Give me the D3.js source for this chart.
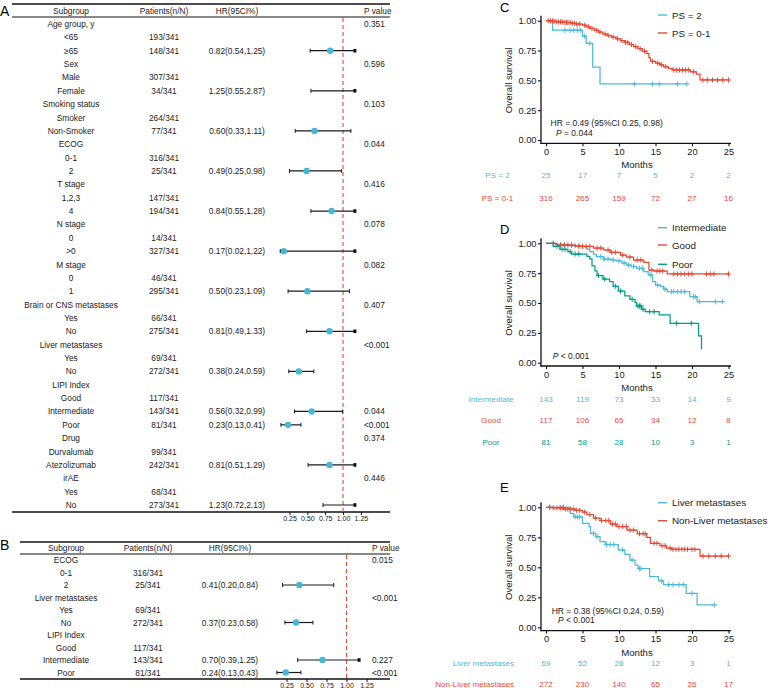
<!DOCTYPE html>
<html><head><meta charset="utf-8">
<script src="https://cdn.jsdelivr.net/npm/d3@7"></script>
<style>body{margin:0;background:#fff}svg{display:block;font-family:"Liberation Sans",Arial,sans-serif}</style>
</head><body><svg id="c" width="768" height="688"></svg>
<script>
// ---------------- DATA ----------------
// Forest plot A
const aLabels = ["Age group, y","<65","≥65","Sex","Male","Female","Smoking status","Smoker","Non-Smoker","ECOG","0-1","2","T stage","1,2,3","4","N stage","0",">0","M stage","0","1","Brain or CNS metastases","Yes","No","Liver metastases","Yes","No","LIPI Index","Good","Intermediate","Poor","Drug","Durvalumab","Atezolizumab","irAE","Yes","No"];
const aPatients = ["","193/341","148/341","","307/341","34/341","","264/341","77/341","","316/341","25/341","","147/341","194/341","","14/341","327/341","","46/341","295/341","","66/341","275/341","","69/341","272/341","","117/341","143/341","81/341","","99/341","242/341","","68/341","273/341"];
const aHR = [null,null,0.82,null,null,1.25,null,null,0.60,null,null,0.49,null,null,0.84,null,null,0.17,null,null,0.50,null,null,0.81,null,null,0.38,null,null,0.56,0.23,null,null,0.81,null,null,1.23];
const aLo = [null,null,0.54,null,null,0.55,null,null,0.33,null,null,0.25,null,null,0.55,null,null,0.02,null,null,0.23,null,null,0.49,null,null,0.24,null,null,0.32,0.13,null,null,0.51,null,null,0.72];
const aHi = [null,null,1.25,null,null,2.87,null,null,1.11,null,null,0.98,null,null,1.28,null,null,1.22,null,null,1.09,null,null,1.33,null,null,0.59,null,null,0.99,0.41,null,null,1.29,null,null,2.13];
const aP = ["0.351","","","0.596","","","0.103","","","0.044","","","0.416","","","0.078","","","0.082","","","0.407","","","<0.001","","","","","0.044","<0.001","0.374","","","0.446","",""];
// Forest plot B
const bLabels = ["ECOG","0-1","2","Liver metastases","Yes","No","LIPI Index","Good","Intermediate","Poor"];
const bPatients = ["","316/341","25/341","","69/341","272/341","","117/341","143/341","81/341"];
const bHR = [null,null,0.41,null,null,0.37,null,null,0.70,0.24];
const bLo = [null,null,0.20,null,null,0.23,null,null,0.39,0.13];
const bHi = [null,null,0.84,null,null,0.58,null,null,1.25,0.43];
const bP = ["0.015","","","<0.001","","","","","0.227","<0.001"];
const forestTicks = [0.25,0.50,0.75,1.00,1.25];
const forestHeaders = ["Subgroup","Patients(n/N)","HR(95CI%)","P value"];

// KM panel C
const cNames = ["PS = 2","PS = 0-1"];
const cPS2 = [[0,1],[0.9,0.92],[5.0,0.87],[5.5,0.81],[6.4,0.61],[7.4,0.47]];
const cPS2End = 19.3;
const cPS2Cens = [2.6,3.3,3.8,4.3,4.7,5.3,6.0,12.1,14.6,15.5,18.0,19.3];
const cPS01 = [[0,1],[0.5,0.997],[1.2,0.99],[2.5,0.985],[3.5,0.978],[4.2,0.972],[5.0,0.962],[5.5,0.95],[6.0,0.936],[6.6,0.92],[7.2,0.905],[7.8,0.888],[8.4,0.875],[9.0,0.862],[9.6,0.848],[10.2,0.833],[10.8,0.818],[11.4,0.8],[12.0,0.782],[12.6,0.765],[13.2,0.745],[13.8,0.725],[14.1,0.69],[14.3,0.66],[15.0,0.645],[15.6,0.63],[16.1,0.614],[16.8,0.598],[17.3,0.587],[19.8,0.572],[20.6,0.553],[21.1,0.503]];
const cPS01End = 25;
const cPS01Cens = [0.3,0.6,0.9,1.1,1.4,1.7,2.0,2.2,2.5,2.8,3.0,3.3,3.6,3.9,4.2,4.6,5.3,5.8,6.3,6.9,7.4,8.1,8.6,9.2,9.8,10.4,10.9,11.2,11.7,12.3,12.9,13.5,14.6,15.3,15.8,16.4,17.5,17.9,18.3,18.7,19.1,19.5,20.2,21.5,22.1,22.8,23.5,24.2,25.0];
const cRiskPS2 = [25,17,7,5,2,2];
const cRiskPS01 = [316,265,159,72,27,16];

// KM panel D
const dNames = ["Intermediate","Good","Poor"];
const dInter = [[0,1],[1.3,0.99],[3,0.98],[5,0.97],[5.6,0.95],[6,0.93],[6.5,0.91],[6.9,0.888],[7.85,0.868],[9.0,0.86],[9.7,0.852],[10.4,0.835],[11,0.818],[11.7,0.805],[12.4,0.79],[13.4,0.762],[14,0.735],[14.6,0.678],[15,0.65],[15.7,0.637],[16.1,0.616],[16.6,0.595],[19.7,0.553],[20.7,0.511]];
const dInterEnd = 24.2;
const dInterCens = [1,2,2.5,3.5,4,4.5,7.5,8,8.5,9.2,10,10.7,11.3,12,12.8,13.2,14.3,15.3,16.3,17.2,17.5,18,18.5,19,20.2,20.5,21,23.2,24.2];
const dGood = [[0,1],[1.5,0.985],[4,0.975],[6.5,0.96],[7.9,0.944],[8.8,0.925],[10.2,0.902],[11,0.885],[12,0.86],[13.4,0.84],[14.1,0.776],[14.8,0.768],[16.6,0.743]];
const dGoodEnd = 25;
const dGoodCens = [1,2,2.5,3,3.5,4.5,5,5.5,6,7,7.5,8.5,9,9.5,10.5,11.5,12.5,13,14.5,15.2,15.6,16,17.5,18,18.5,19,19.5,20,22,22.5,23,25];
const dPoor = [[0,1],[1.0,0.975],[1.9,0.95],[3.0,0.93],[3.5,0.91],[5.6,0.89],[6.0,0.87],[6.3,0.81],[6.7,0.77],[7.0,0.73],[7.8,0.70],[8.7,0.68],[9.2,0.64],[9.9,0.60],[10.8,0.56],[11.5,0.53],[12.2,0.505],[12.4,0.475],[13.1,0.447],[13.6,0.427],[15.5,0.40],[17.0,0.33],[20.9,0.224],[21.3,0.112]];
const dPoorEnd = 21.3;
const dPoorCens = [1.5,2.2,2.6,3.3,4,4.5,7.2,8,9.5,10.2,11.8,12.6,12.8,13.0,13.3,14.2,14.8,17.9,19.9];
const dRiskInter = [143,119,73,33,14,9];
const dRiskGood = [117,106,65,34,12,8];
const dRiskPoor = [81,58,28,10,3,1];

// KM panel E
const eNames = ["Liver metastases","Non-Liver metastases"];
const eLiver = [[0,1],[3.3,0.95],[3.8,0.92],[5.0,0.867],[5.9,0.838],[6.1,0.783],[6.8,0.755],[7.4,0.713],[8.1,0.69],[9.9,0.644],[10.8,0.608],[11.5,0.56],[12.2,0.519],[12.6,0.49],[14.2,0.422],[15.4,0.386],[16.1,0.355],[19.2,0.283],[20.7,0.186]];
const eLiverEnd = 23.1;
const eLiverCens = [0.5,1.9,2.4,4.0,4.3,4.6,6.5,7.0,8.3,8.8,9.3,10.5,11.8,12.8,13.0,15.8,16.8,17.4,18.2,18.8,20.0,23.1];
const eNon = [[0,1],[1,0.995],[2.5,0.985],[4,0.975],[5,0.96],[5.6,0.94],[6.5,0.91],[7.4,0.89],[8.8,0.86],[9.7,0.84],[11.1,0.81],[12.5,0.78],[13.8,0.75],[14.3,0.70],[15.6,0.68],[16.5,0.66],[17.2,0.65],[21.1,0.594]];
const eNonEnd = 25;
const eNonCens = [0.5,1,1.5,2,2.3,2.7,3,3.4,3.8,4.2,4.6,5.3,6,6.8,7.6,8.2,8.6,9.1,9.5,10,10.5,11,11.5,12,12.8,13.3,13.6,14.8,15.2,15.9,16.3,17,17.4,17.8,18.2,18.6,19,19.4,20,20.4,21.5,22.3,23.2,24,25];
const eRiskLiver = [69,52,26,12,3,1];
const eRiskNon = [272,230,140,65,26,17];
const kmTimeTicks = [0,5,10,15,20,25];
const kmSurvTicks = [0,0.25,0.5,0.75,1];

// ---------------- DRAW ----------------
const FONT = '"Liberation Sans", Arial, sans-serif';
const BLUE = '#4DBBD5', RED = '#E64B35', GREEN = '#00A087', DOT = '#45B8D8';
const svg = d3.select('#c');

function txt(g, x, y, s, o = {}) {
  return g.append('text').attr('x', x).attr('y', y)
    .attr('dominant-baseline', 'central')
    .attr('text-anchor', o.anchor || 'middle')
    .attr('font-size', o.size || 8.3)
    .attr('font-family', FONT)
    .attr('fill', o.fill || '#1a1a1a').text(s);
}

function forest(o) {
  const g = svg.append('g');
  const n = o.labels.length;
  const y = d3.scalePoint().domain(d3.range(n)).range([o.y0, o.y1]);
  const x = d3.scaleLinear().domain([0.25, 1.25]).range(o.xr);
  [[o.rTop, 1.6], [o.rHead, 1], [o.rBot, 1.4]].forEach(([yy, w]) =>
    g.append('line').attr('x1', o.rx0).attr('x2', o.rx1).attr('y1', yy).attr('y2', yy)
      .attr('stroke', '#111').attr('stroke-width', w));
  txt(g, o.cols[0], o.hy, forestHeaders[0]);
  txt(g, o.cols[1], o.hy, forestHeaders[1]);
  txt(g, o.cols[2], o.hy, forestHeaders[2]);
  txt(g, o.cols[3], o.hy, forestHeaders[3], {anchor: 'start'});
  g.append('line').attr('x1', x(1)).attr('x2', x(1)).attr('y1', o.rHead + 1).attr('y2', o.rBot)
    .attr('stroke', RED).attr('stroke-width', 1.1).attr('stroke-dasharray', '4,3');
  for (let i = 0; i < n; i++) {
    const yy = y(i);
    txt(g, o.cols[0], yy, o.labels[i]);
    if (o.patients[i]) txt(g, o.cols[1], yy, o.patients[i]);
    if (o.p[i]) txt(g, o.cols[3], yy, o.p[i], {anchor: 'start'});
    if (o.hr[i] != null) {
      const hr = o.hr[i], lo = o.lo[i], hi = o.hi[i];
      txt(g, o.cols[2], yy, `${hr.toFixed(2)}(${lo.toFixed(2)},${hi.toFixed(2)})`);
      const loC = Math.max(lo, o.clip[0]), hiC = Math.min(hi, o.clip[1]);
      g.append('line').attr('x1', x(loC)).attr('x2', x(hiC)).attr('y1', yy).attr('y2', yy)
        .attr('stroke', '#1a1a1a').attr('stroke-width', 1.2);
      [[lo, loC, -1], [hi, hiC, 1]].forEach(([v, vc, dir]) => {
        if (v !== vc) {
          g.append('rect').attr('x', dir > 0 ? x(vc) - 2.5 : x(vc) - 0.5).attr('y', yy - 1.8)
            .attr('width', 3).attr('height', 3.6).attr('fill', '#111');
        } else {
          g.append('line').attr('x1', x(vc)).attr('x2', x(vc)).attr('y1', yy - 2).attr('y2', yy + 2)
            .attr('stroke', '#1a1a1a').attr('stroke-width', 1);
        }
      });
      if (hr >= o.clip[0] && hr <= o.clip[1])
        g.append('circle').attr('cx', x(hr)).attr('cy', yy).attr('r', 3.2).attr('fill', DOT);
    }
  }
  const ax = g.append('g').attr('transform', `translate(0,${o.rBot})`)
    .call(d3.axisBottom(x).tickValues(forestTicks).tickFormat(d3.format('.2f')).tickSize(3));
  ax.select('.domain').remove();
  ax.selectAll('line').attr('stroke', '#111');
  ax.selectAll('text').attr('font-size', 7).attr('font-family', FONT).attr('fill', '#1a1a1a').attr('y', 4);
}

forest({labels: aLabels, patients: aPatients, hr: aHR, lo: aLo, hi: aHi, p: aP,
  y0: 24, y1: 505, hy: 10.5, rTop: 4, rHead: 17, rBot: 512, rx0: 12, rx1: 390,
  cols: [71, 164, 237, 364], xr: [289.5, 360.9], clip: [0.12, 1.18]});
forest({labels: bLabels, patients: bPatients, hr: bHR, lo: bLo, hi: bHi, p: bP,
  y0: 560, y1: 672.5, hy: 548, rTop: 542, rHead: 554, rBot: 679, rx0: 20, rx1: 390,
  cols: [66, 148, 230, 372], xr: [286.5, 366.5], clip: [0.12, 1.17]});

svg.append('text').attr('x', 0).attr('y', 15.5).attr('font-size', 14).attr('font-family', FONT).text('A');
svg.append('text').attr('x', 0).attr('y', 550).attr('font-size', 14).attr('font-family', FONT).text('B');

function stepAt(steps, t) {
  const i = d3.bisector(d => d[0]).right(steps, t) - 1;
  return steps[Math.max(0, i)][1];
}

function km(o) {
  const g = svg.append('g');
  const x = d3.scaleLinear().domain([0, 25]).range([546, 728.5]);
  const y = d3.scaleLinear().domain([0, 1]).range([o.yb, o.yt]);
  const axY = o.yb + 3.3;
  const aL = g.append('g').attr('transform', 'translate(541,0)')
    .call(d3.axisLeft(y).tickValues(kmSurvTicks).tickFormat(d3.format('.2f')).tickSize(3));
  aL.select('.domain').remove();
  aL.selectAll('line').attr('stroke', '#111').attr('stroke-width', 1.1);
  aL.selectAll('text').attr('font-size', 9.3).attr('font-family', FONT).attr('fill', '#1a1a1a').attr('x', -4.5);
  const aB = g.append('g').attr('transform', `translate(0,${axY})`)
    .call(d3.axisBottom(x).tickValues(kmTimeTicks).tickSize(3));
  aB.select('.domain').remove();
  aB.selectAll('line').attr('stroke', '#111').attr('stroke-width', 1.1);
  aB.selectAll('text').attr('font-size', 9.3).attr('font-family', FONT).attr('fill', '#1a1a1a').attr('y', 5);
  g.append('line').attr('x1', 541).attr('x2', 541).attr('y1', o.yt - 5).attr('y2', axY + 0.6)
    .attr('stroke', '#111').attr('stroke-width', 1.3);
  g.append('line').attr('x1', 540.4).attr('x2', 731).attr('y1', axY).attr('y2', axY)
    .attr('stroke', '#111').attr('stroke-width', 1.3);
  txt(g, 637, axY + 21.5, 'Months', {size: 9.6});
  g.append('text').attr('transform', `translate(508,${(o.yt + o.yb) / 2}) rotate(-90)`)
    .attr('text-anchor', 'middle').attr('dominant-baseline', 'central')
    .attr('font-size', 9.6).attr('font-family', FONT).attr('fill', '#1a1a1a').text('Overall survival');
  const line = d3.line().x(d => x(d[0])).y(d => y(d[1])).curve(d3.curveStepAfter);
  o.curves.forEach(c => {
    const pts = c.steps.concat([[c.end, c.steps[c.steps.length - 1][1]]]);
    g.append('path').attr('d', line(pts)).attr('fill', 'none').attr('stroke', c.color).attr('stroke-width', 1.25);
    c.cens.forEach(t => {
      const cx = x(t), cy = y(stepAt(c.steps, t));
      g.append('path').attr('d', `M${cx - 2.6},${cy}H${cx + 2.6}M${cx},${cy - 2.6}V${cy + 2.6}`)
        .attr('stroke', c.color).attr('stroke-width', 1);
    });
  });
  o.curves.forEach((c, i) => {
    const ly = o.legY[i];
    g.append('line').attr('x1', 658).attr('x2', 667).attr('y1', ly).attr('y2', ly)
      .attr('stroke', c.color).attr('stroke-width', 1.4);
    txt(g, 672, ly, c.name, {anchor: 'start', size: 9.8, fill: '#222'});
  });
  o.notes.forEach(nt => {
    const t = g.append('text').attr('x', nt.x).attr('y', nt.y).attr('dominant-baseline', 'central')
      .attr('font-size', 8.5).attr('font-family', FONT).attr('fill', '#1a1a1a');
    if (nt.italic) {
      t.append('tspan').attr('font-style', 'italic').text(nt.italic);
      t.append('tspan').text(nt.rest);
    } else t.text(nt.rest);
  });
  o.curves.forEach((c, i) => {
    const ry = o.riskY[i];
    txt(g, o.labX, ry, c.name, {anchor: o.labAnchor, size: 8.1, fill: c.color});
    c.risk.forEach((v, j) => txt(g, x(kmTimeTicks[j]), ry, String(v), {size: 8.1, fill: c.color}));
  });
  g.append('text').attr('x', 500).attr('y', o.letterY).attr('font-size', 13).attr('font-family', FONT).text(o.letter);
}

km({letter: 'C', letterY: 12, yt: 20.7, yb: 140,
  curves: [
    {name: cNames[0], color: BLUE, steps: cPS2, end: cPS2End, cens: cPS2Cens, risk: cRiskPS2},
    {name: cNames[1], color: RED, steps: cPS01, end: cPS01End, cens: cPS01Cens, risk: cRiskPS01}],
  legY: [15, 33], riskY: [175.5, 198], labX: 497.5, labAnchor: 'middle',
  notes: [{x: 550.5, y: 122.7, rest: 'HR = 0.49 (95%CI 0.25, 0.98)'}, {x: 556, y: 132.7, italic: 'P', rest: ' = 0.044'}]});

km({letter: 'D', letterY: 234, yt: 243.3, yb: 362.7,
  curves: [
    {name: dNames[0], color: BLUE, steps: dInter, end: dInterEnd, cens: dInterCens, risk: dRiskInter},
    {name: dNames[1], color: RED, steps: dGood, end: dGoodEnd, cens: dGoodCens, risk: dRiskGood},
    {name: dNames[2], color: GREEN, steps: dPoor, end: dPoorEnd, cens: dPoorCens, risk: dRiskPoor}],
  legY: [227.7, 245, 264.3], riskY: [399, 420.7, 442.5], labX: 491, labAnchor: 'middle',
  notes: [{x: 552.7, y: 356, italic: 'P', rest: ' < 0.001'}]});

km({letter: 'E', letterY: 492, yt: 507.3, yb: 627.3,
  curves: [
    {name: eNames[0], color: BLUE, steps: eLiver, end: eLiverEnd, cens: eLiverCens, risk: eRiskLiver},
    {name: eNames[1], color: RED, steps: eNon, end: eNonEnd, cens: eNonCens, risk: eRiskNon}],
  legY: [502.7, 520.7], riskY: [663.3, 684.3], labX: 514, labAnchor: 'end',
  notes: [{x: 551.7, y: 610.7, rest: 'HR = 0.38 (95%CI 0.24, 0.59)'}, {x: 558, y: 620, italic: 'P', rest: ' < 0.001'}]});
</script></body></html>
